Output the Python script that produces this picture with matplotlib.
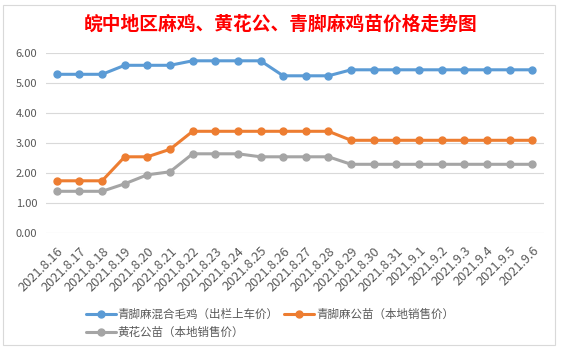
# 皖中地区 鸡苗价格走势图 (line chart, Excel style)
import matplotlib.pyplot as plt
from matplotlib.patches import Rectangle

plt.rcParams['font.family'] = ['Noto Sans CJK SC', 'DejaVu Sans']

# data
dates = ['2021.8.16', '2021.8.17', '2021.8.18', '2021.8.19', '2021.8.20',
         '2021.8.21', '2021.8.22', '2021.8.23', '2021.8.24', '2021.8.25',
         '2021.8.26', '2021.8.27', '2021.8.28', '2021.8.29', '2021.8.30',
         '2021.8.31', '2021.9.1', '2021.9.2', '2021.9.3', '2021.9.4',
         '2021.9.5', '2021.9.6']
mixed_mao = [5.30, 5.30, 5.30, 5.60, 5.60, 5.60, 5.75, 5.75, 5.75, 5.75,
             5.25, 5.25, 5.25, 5.45, 5.45, 5.45, 5.45, 5.45, 5.45, 5.45,
             5.45, 5.45]
qingjiao_gong = [1.75, 1.75, 1.75, 2.55, 2.55, 2.80, 3.40, 3.40, 3.40, 3.40,
                 3.40, 3.40, 3.40, 3.10, 3.10, 3.10, 3.10, 3.10, 3.10, 3.10,
                 3.10, 3.10]
huanghua_gong = [1.40, 1.40, 1.40, 1.65, 1.95, 2.05, 2.65, 2.65, 2.65, 2.55,
                 2.55, 2.55, 2.55, 2.30, 2.30, 2.30, 2.30, 2.30, 2.30, 2.30,
                 2.30, 2.30]
series_names = ['青脚麻混合毛鸡（出栏上车价）', '青脚麻公苗（本地销售价）', '黄花公苗（本地销售价）']
title = '皖中地区麻鸡、黄花公、青脚麻鸡苗价格走势图'

colors = ['#5B9BD5', '#ED7D31', '#A5A5A5']
text_col = '#595959'

fig = plt.figure(figsize=(5.61, 3.49), dpi=100)
fig.patch.set_facecolor('white')

# chart area border
fig.add_artist(Rectangle((3 / 561, 4 / 349), 552 / 561, 340 / 349,
                         transform=fig.transFigure, fill=False,
                         edgecolor='#D9D9D9', linewidth=0.8))

ax = fig.add_axes([45.5 / 561, 1 - 233.3 / 349, 498 / 561, 180 / 349])
x = list(range(len(dates)))

lines = []
for vals, name, c in zip([mixed_mao, qingjiao_gong, huanghua_gong], series_names, colors):
    ln, = ax.plot(x, vals, color=c, linewidth=2.2, marker='o', markersize=5,
                  label=name, solid_capstyle='round')
    lines.append(ln)

ax.set_xlim(-0.5, len(dates) - 0.5)
ax.set_ylim(0, 6)
ax.set_yticks([0, 1, 2, 3, 4, 5, 6])
ax.set_yticklabels([f'{v:.2f}' for v in range(7)])
ax.set_xticks(x)
ax.set_xticklabels(dates, rotation=45, ha='right', va='top', rotation_mode='anchor')
ax.tick_params(axis='both', length=0, labelcolor=text_col)
ax.tick_params(axis='y', pad=6, labelsize=8)
ax.tick_params(axis='x', pad=8, labelsize=9.2)
ax.grid(axis='y', color='#D9D9D9', linewidth=0.8)
ax.set_axisbelow(True)
for s in ax.spines.values():
    s.set_visible(False)

fig.text(0.5, 1 - 24 / 349, title, color='red', fontsize=13.5, fontweight='bold',
         ha='center', va='center')

# legend: row-wise order blue, orange / gray
fig.legend([lines[0], lines[2], lines[1]],
           [series_names[0], series_names[2], series_names[1]],
           ncol=2, loc='upper left', bbox_to_anchor=(80 / 561, 1 - 302 / 349),
           frameon=False, fontsize=8.3, labelcolor=text_col,
           handlelength=2.6, handletextpad=0.15, columnspacing=0.5,
           labelspacing=0.45, borderpad=0)

fig.savefig('out.png', dpi=100)
